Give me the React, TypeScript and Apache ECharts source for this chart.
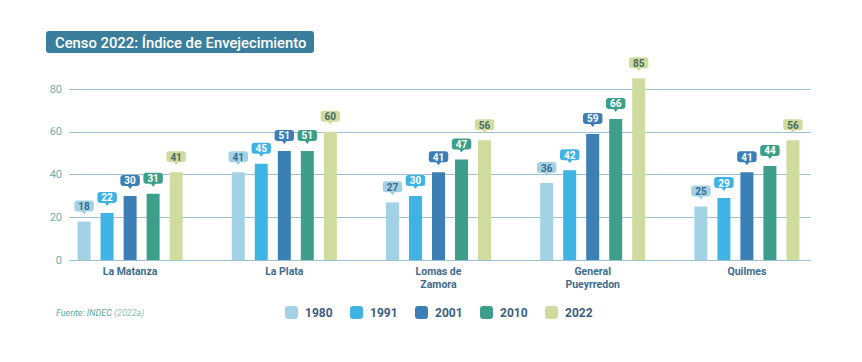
import React, { useEffect, useRef } from "react";
import * as echarts from "echarts";

const categories = ["La Matanza", "La Plata", "Lomas de\nZamora", "General\nPueyrredon", "Quilmes"];
const years = ["1980", "1991", "2001", "2010", "2022"];
const v1980 = [18, 41, 27, 36, 25];
const v1991 = [22, 45, 30, 42, 29];
const v2001 = [30, 51, 41, 59, 41];
const v2010 = [31, 51, 47, 66, 44];
const v2022 = [41, 60, 56, 85, 56];
const yTicks = [0, 20, 40, 60, 80];

const seriesValues = [v1980, v1991, v2001, v2010, v2022];
const barColors = ["#a3d2e7", "#3fb3e4", "#3b7fb5", "#3d9f8b", "#cfdc9d"];
const labelText = ["#3b6a8a", "#ffffff", "#ffffff", "#ffffff", "#476b66"];

const FONT = "Roboto";

export default function App() {
  const ref = useRef<HTMLDivElement>(null);
  useEffect(() => {
    if (!ref.current) return;
    const chart = echarts.init(ref.current, null, { renderer: "svg" });
    const bars = years.map((y, i) => ({
      name: y,
      type: "bar",
      xAxisIndex: 1,
      yAxisIndex: 1,
      data: seriesValues[i],
      barWidth: 13,
      barGap: "77%",
      clip: false,
      z: 3,
      itemStyle: { color: barColors[i] },
      label: {
        show: true,
        position: "top",
        distance: 10,
        formatter: (p: any) => `{box|${p.value}}`,
        rich: {
          box: {
            backgroundColor: barColors[i],
            color: labelText[i],
            borderRadius: 3,
            padding: [1, 4, 0, 4],
            fontSize: 10,
            fontWeight: "bold",
            fontFamily: FONT,
            lineHeight: 11,
            align: "center",
          },
        },
      },
    }));
    const arrows = years.map((y, i) => ({
      name: "arrow" + y,
      type: "pictorialBar",
      xAxisIndex: 1,
      yAxisIndex: 1,
      data: seriesValues[i],
      barWidth: 13,
      barGap: "77%",
      symbol: "path://M0,0 L6,0 L3,4 Z",
      symbolSize: [6, 4],
      symbolPosition: "end",
      symbolOffset: [0, -11],
      symbolRepeat: false,
      z: 4,
      itemStyle: { color: barColors[i] },
      silent: true,
    }));
    chart.setOption({
      animation: false,
      textStyle: { fontFamily: FONT },
      grid: [
        { left: 69, right: 51, top: 89, bottom: 102 },
        { left: 53, right: 38, top: 89, bottom: 102 },
      ],
      xAxis: [
        { gridIndex: 0, type: "value", show: false, min: 0, max: 1 },
        {
          gridIndex: 1,
          type: "category",
          data: categories,
          axisLine: { show: false },
          axisTick: { show: false },
          axisLabel: {
            interval: 0,
            color: "#3e6d8c",
            fontSize: 10.5,
            fontWeight: "bold",
            fontFamily: FONT,
            lineHeight: 13,
            margin: 5,
          },
        },
      ],
      yAxis: [
        {
          gridIndex: 0,
          type: "value",
          min: yTicks[0],
          max: yTicks[yTicks.length - 1],
          interval: 20,
          axisLine: { show: false },
          axisTick: { show: false },
          splitLine: { lineStyle: { color: "#9fbfd2", width: 1 } },
          axisLabel: { color: "#74aea9", fontSize: 11, fontFamily: FONT, margin: 7 },
        },
        {
          gridIndex: 1,
          type: "value",
          min: yTicks[0],
          max: yTicks[yTicks.length - 1],
          show: false,
          splitLine: { show: false },
        },
      ],
      legend: years.map((y, i) => ({
        data: [y],
        left: 280 + 65 * i,
        top: 301,
        itemWidth: 13,
        itemHeight: 13,
        itemGap: 0,
        icon: "roundRect",
        textStyle: { color: "#3b5e7e", fontSize: 12, fontWeight: "bold", fontFamily: FONT, padding: [0, 0, 0, 2] },
        selectedMode: false,
      })),
      graphic: [
        {
          type: "rect",
          shape: { x: 46, y: 31, width: 268, height: 22, r: 3 },
          style: { fill: "#3b7e9c" },
        },
        {
          type: "text",
          x: 55,
          y: 42.5,
          style: {
            text: "Censo 2022: Índice de Envejecimiento",
            fill: "#ffffff",
            fontSize: 14.8,
            fontWeight: 500,
            fontFamily: FONT,
            verticalAlign: "middle",
          },
        },
        {
          type: "text",
          x: 56,
          y: 313,
          style: {
            text: "{a|Fuente: INDEC }{b|(2022a)}",
            verticalAlign: "middle",
            rich: {
              a: { fill: "#5aa99b", fontSize: 9, fontStyle: "italic", fontFamily: FONT },
              b: { fill: "#8cc4ba", fontSize: 9, fontStyle: "italic", fontFamily: FONT },
            },
          },
        },
      ],
      series: [...bars, ...arrows],
    });
    return () => chart.dispose();
  }, []);
  return <div ref={ref} style={{ width: 862, height: 362, position: "absolute", left: 0, top: 0 }} />;
}
